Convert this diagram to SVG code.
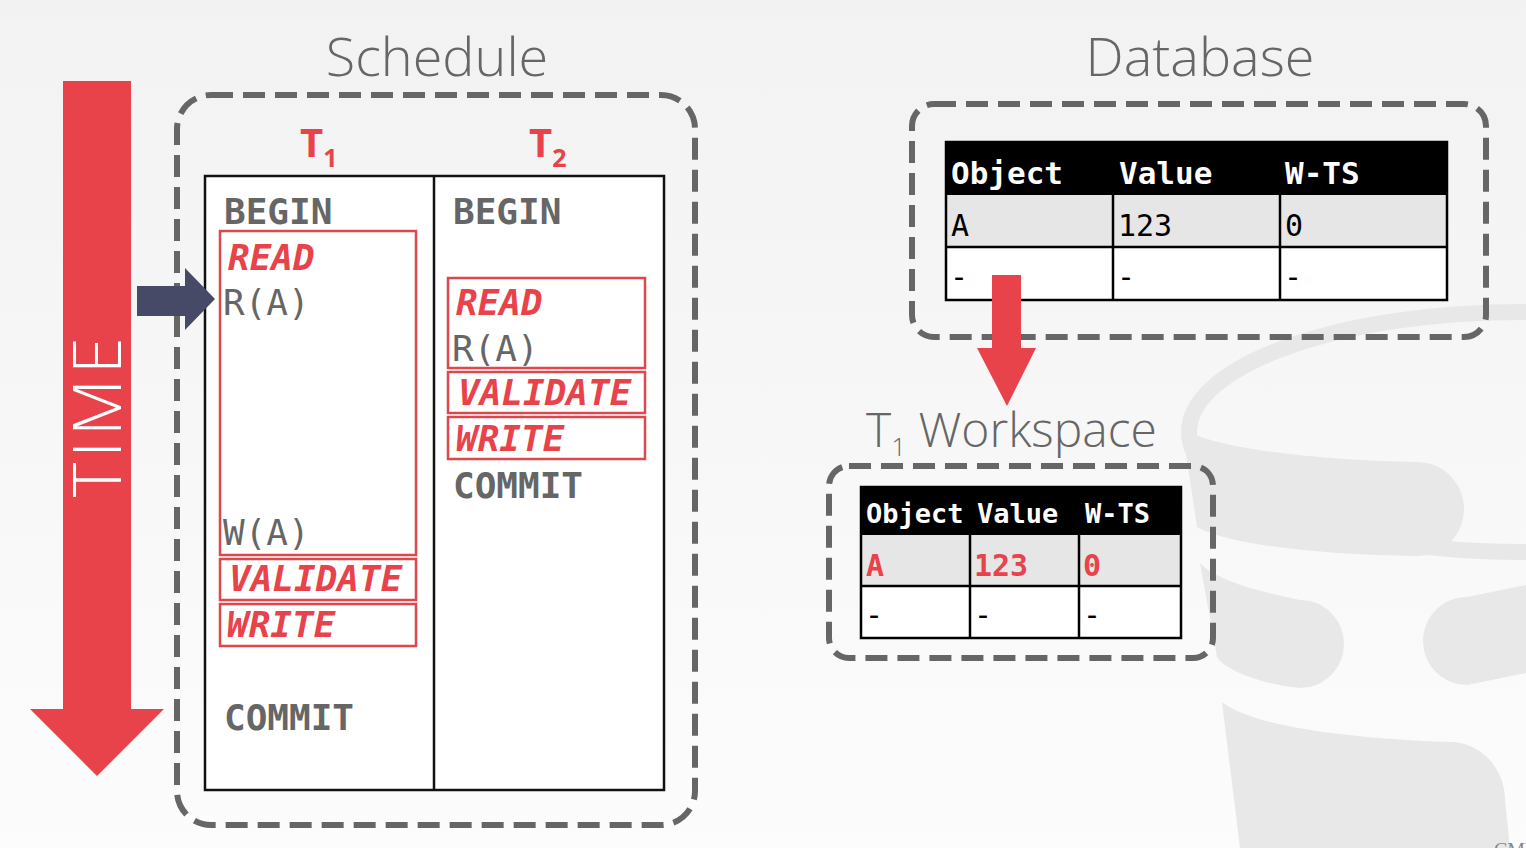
<svg xmlns="http://www.w3.org/2000/svg" width="1526" height="848" viewBox="0 0 1526 848">
<defs>
<linearGradient id="bg" x1="0" y1="0" x2="0" y2="1">
<stop offset="0" stop-color="#f2f2f2"/>
<stop offset="1" stop-color="#fcfcfc"/>
</linearGradient>
</defs>
<style>
.title{font-family:"Open Sans","Liberation Sans",sans-serif;font-weight:300;fill:#666}
.dash{fill:none;stroke:#666;stroke-width:6;stroke-dasharray:22 10}
.kw{font-family:"DejaVu Sans Mono","Liberation Mono",monospace;font-weight:bold;font-size:36px;fill:#666}
.op{font-family:"DejaVu Sans Mono","Liberation Mono",monospace;font-size:36px;fill:#666}
.ph{font-family:"DejaVu Sans Mono","Liberation Mono",monospace;font-weight:bold;font-style:italic;font-size:36px;fill:#e8434a}
.rbox{fill:none;stroke:#e0474c;stroke-width:2.5}
.tl{font-family:"Open Sans","Liberation Sans",sans-serif;font-weight:bold;fill:#e8434a}
.hd{font-family:"DejaVu Sans Mono","Liberation Mono",monospace;font-weight:bold;fill:#fff}
.cell{font-family:"DejaVu Sans Mono","Liberation Mono",monospace;fill:#000}
.cellr{font-family:"DejaVu Sans Mono","Liberation Mono",monospace;font-weight:bold;fill:#e8434a}
.grid{fill:none;stroke:#000;stroke-width:2.5}
.wm{fill:#e8e8e8}
</style>
<rect width="1526" height="848" fill="url(#bg)"/>
<g id="watermark">
<ellipse cx="1522" cy="432" rx="333" ry="120" fill="none" stroke="#e8e8e8" stroke-width="16"/>
<path class="wm" d="M1182,427 C1200,445 1300,460 1417,462 A47,47 0 0 1 1417,556 C1320,555 1230,545 1197,527 Z"/>
<path class="wm" d="M1200,563 C1215,580 1260,592 1300,600 A44,44 0 0 1 1300,688 C1260,684 1225,670 1217,657 Z"/>
<path class="wm" d="M1467,597 L1526,585 L1526,673 L1467,685 A44,44 0 0 1 1467,597 Z"/>
<path class="wm" d="M1222,702 C1250,725 1340,738 1450,742 A55,58 0 0 1 1505,800 L1510,848 L1240,848 Z"/>
</g>
<text x="1494" y="857" font-family="Liberation Serif,serif" font-size="20" fill="#888">CMU</text>

<g id="schedule">
<text class="title" x="437" y="76" font-size="54" text-anchor="middle">Schedule</text>
<rect class="dash" x="177" y="95" width="518" height="730" rx="34"/>
<rect x="205" y="176" width="459" height="614" fill="#fff" stroke="#111" stroke-width="2.5"/>
<line x1="434" y1="176" x2="434" y2="790" stroke="#111" stroke-width="2.5"/>
</g>

<g id="t1">
<text class="tl" x="300" y="157" font-size="40">T<tspan font-size="25" dy="10">1</tspan></text>
<text class="kw" x="224" y="224">BEGIN</text>
<rect class="rbox" x="220" y="231" width="196" height="324"/>
<text class="ph" x="228" y="270">READ</text>
<text class="op" x="223" y="315">R(A)</text>
<text class="op" x="223" y="545">W(A)</text>
<rect class="rbox" x="220" y="559" width="196" height="41"/>
<text class="ph" x="229" y="591">VALIDATE</text>
<rect class="rbox" x="220" y="604" width="196" height="42"/>
<text class="ph" x="227" y="637">WRITE</text>
<text class="kw" x="224" y="730">COMMIT</text>
</g>

<g id="t2">
<text class="tl" x="529" y="157" font-size="40">T<tspan font-size="25" dy="10">2</tspan></text>
<text class="kw" x="453" y="224">BEGIN</text>
<rect class="rbox" x="448" y="278" width="197" height="90"/>
<text class="ph" x="456" y="315">READ</text>
<text class="op" x="452" y="361">R(A)</text>
<rect class="rbox" x="448" y="372" width="197" height="41"/>
<text class="ph" x="458" y="405">VALIDATE</text>
<rect class="rbox" x="448" y="417" width="197" height="42"/>
<text class="ph" x="456" y="451">WRITE</text>
<text class="kw" x="453" y="498">COMMIT</text>
</g>

<g id="database">
<text class="title" x="1200" y="76" font-size="54" text-anchor="middle">Database</text>
<rect class="dash" x="912" y="104" width="574" height="233" rx="22"/>
<rect x="946" y="142" width="501" height="53" fill="#000"/>
<rect x="946" y="195" width="501" height="52" fill="#e6e6e6"/>
<rect x="946" y="247" width="501" height="53" fill="#fff"/>
<rect class="grid" x="946" y="142" width="501" height="158"/>
<line x1="946" y1="247" x2="1447" y2="247" stroke="#000" stroke-width="2.5"/>
<line x1="1113" y1="195" x2="1113" y2="300" stroke="#000" stroke-width="2.5"/>
<line x1="1280" y1="195" x2="1280" y2="300" stroke="#000" stroke-width="2.5"/>
<text class="hd" x="951" y="184" font-size="31">Object</text>
<text class="hd" x="1119" y="184" font-size="31">Value</text>
<text class="hd" x="1285" y="184" font-size="31">W-TS</text>
<text class="cell" x="951" y="236" font-size="30">A</text>
<text class="cell" x="1118" y="236" font-size="30">123</text>
<text class="cell" x="1285" y="236" font-size="30">0</text>
<text class="cell" x="950" y="287" font-size="30">-</text>
<text class="cell" x="1117" y="287" font-size="30">-</text>
<text class="cell" x="1284" y="287" font-size="30">-</text>
</g>

<g id="workspace">
<text class="title" x="866" y="447" font-size="48">T<tspan font-size="26" dy="9">1</tspan><tspan dy="-9"> Workspace</tspan></text>
<rect class="dash" x="829" y="466" width="384" height="192" rx="20"/>
<rect x="861" y="487" width="320" height="48" fill="#000"/>
<rect x="861" y="535" width="320" height="51" fill="#e6e6e6"/>
<rect x="861" y="586" width="320" height="52" fill="#fff"/>
<rect class="grid" x="861" y="487" width="320" height="151"/>
<line x1="861" y1="586" x2="1181" y2="586" stroke="#000" stroke-width="2.5"/>
<line x1="970" y1="535" x2="970" y2="638" stroke="#000" stroke-width="2.5"/>
<line x1="1079" y1="535" x2="1079" y2="638" stroke="#000" stroke-width="2.5"/>
<text class="hd" x="866" y="523" font-size="27">Object</text>
<text class="hd" x="977" y="523" font-size="27">Value</text>
<text class="hd" x="1085" y="523" font-size="27">W-TS</text>
<text class="cellr" x="866" y="576" font-size="30">A</text>
<text class="cellr" x="974" y="576" font-size="30">123</text>
<text class="cellr" x="1083" y="576" font-size="30">0</text>
<text class="cell" x="865" y="625" font-size="30">-</text>
<text class="cell" x="974" y="625" font-size="30">-</text>
<text class="cell" x="1083" y="625" font-size="30">-</text>
</g>

<g id="connectors">
<path d="M63,81 H131 V709 H164 L97,776 L30,709 H63 Z" fill="#e8434a"/>
<text x="0" y="0" transform="translate(121,415) rotate(-90)" font-family="Open Sans,Liberation Sans,sans-serif" font-weight="300" font-size="66" fill="#fff" text-anchor="middle" letter-spacing="5">TIME</text>
<path d="M137,286 H185 V268 L215,299 L185,330 V316 H137 Z" fill="#474a66"/>
<path d="M992,275 H1021 V348 H1036 L1007,406 L977,348 H992 Z" fill="#e8434a"/>
</g>
</svg>
